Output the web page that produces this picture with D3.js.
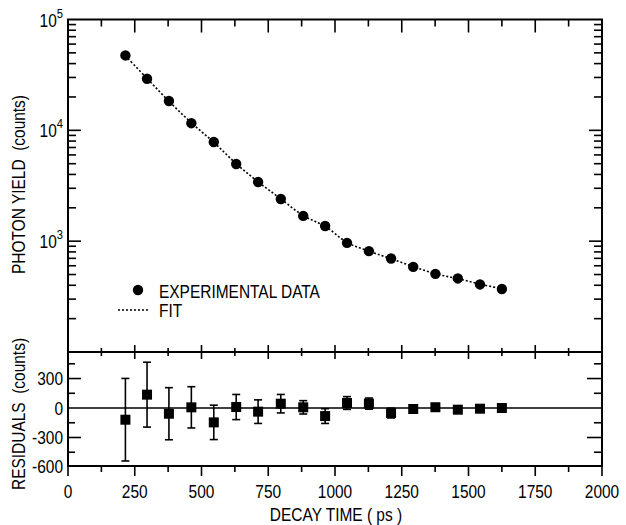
<!DOCTYPE html>
<html>
<head>
<meta charset="utf-8">
<script src="https://cdn.jsdelivr.net/npm/d3@7/dist/d3.min.js"></script>
<style>
  html, body { margin: 0; padding: 0; background: #fff; }
  svg text { font-family: "Liberation Sans", Arial, Helvetica, sans-serif; fill: #000; white-space: pre; }
</style>
</head>
<body>
<svg id="chart" width="626" height="525"></svg>
<script>
// ---- data ----
const decayTime   = [215, 296, 378, 462, 546, 630, 712, 797, 881, 963, 1045, 1127, 1210, 1293, 1376, 1460, 1543, 1625];
const photonYield = [47400, 29200, 18400, 11600, 7850, 4970, 3420, 2400, 1690, 1370, 966, 813, 698, 586, 507, 461, 407, 370];
const fitYield    = [47000, 29400, 18300, 11700, 7800, 5000, 3430, 2410, 1700, 1360, 975, 812, 695, 590, 508, 459, 410, 372];
const residuals   = [-119, 136, -58, 7, -146, 10, -37, 44, 7, -82, 51, 45, -51, -10, 8, -17, -7, 0];
const residualErr = [420, 330, 265, 210, 175, 128, 120, 94, 68, 75, 65, 57, 50, 30, 25, 20, 20, 15];
const xTickLabels = [0, 250, 500, 750, 1000, 1250, 1500, 1750, 2000];
const yieldDecades = [100, 1000, 10000, 100000];
const yieldLabelExp = [3, 4, 5];
const residualTickLabels = [300, 0, -300, -600];
const residualMinorTicks = [450, 150, -150, -450];
const legendLabels = ["EXPERIMENTAL DATA", "FIT"];
const xTitle = "DECAY TIME ( ps )";
const yTitleTop = "PHOTON YIELD  (counts)";
const yTitleBottom = "RESIDUALS  (counts)";

// ---- layout ----
const L = 68, R = 602, T = 19.5, MID = 352, B = 466;
const SX = 0.86; // horizontal condensing of the typeface
const svg = d3.select("#chart");
svg.append("rect").attr("width", 626).attr("height", 525).attr("fill", "#fff");

const x = d3.scaleLinear().domain([0, 2000]).range([L, R]);
const yTop = d3.scaleLog().domain([100, 100000]).range([MID, T]);
const yRes = d3.scaleLinear().domain([-590, 570]).range([B, MID]);

const xMinor = d3.range(125, 2000, 250);
const logMinor = [];
yieldDecades.slice(0, 3).forEach(d => { for (let k = 2; k <= 9; k++) logMinor.push(d * k); });

const g = svg.append("g");

function tick(x1, y1, x2, y2, w) {
  return g.append("line").attr("x1", x1).attr("y1", y1).attr("x2", x2).attr("y2", y2)
    .attr("stroke", "#000").attr("stroke-width", w || 1.6);
}
function label(px, py, str, anchor, rot) {
  return g.append("text")
    .attr("transform", `translate(${px},${py})` + (rot ? ` rotate(${rot})` : "") + ` scale(${SX},1)`)
    .attr("text-anchor", anchor || "start").attr("font-size", 18).text(str);
}

// ---- frame ----
g.append("rect").attr("x", L).attr("y", T).attr("width", R - L).attr("height", B - T)
  .attr("fill", "none").attr("stroke", "#000").attr("stroke-width", 2);
tick(L, MID, R, MID, 2);

// ---- x ticks ----
xTickLabels.forEach(v => {
  if (v > 0 && v < 2000) {
    tick(x(v), T, x(v), T + 13);
    tick(x(v), MID - 7, x(v), MID + 7);
  }
  tick(x(v), B, x(v), B + 10);
  label(x(v), 498, String(v), "middle");
});
xMinor.forEach(v => {
  tick(x(v), T, x(v), T + 7);
  tick(x(v), MID - 4, x(v), MID + 4);
  tick(x(v), B, x(v), B + 6);
});

// ---- log y ticks (top panel) ----
yieldDecades.forEach(v => {
  if (v > 100 && v < 100000) {
    tick(L, yTop(v), L + 13, yTop(v));
    tick(R - 13, yTop(v), R, yTop(v));
  }
});
logMinor.forEach(v => {
  tick(L, yTop(v), L + 8, yTop(v));
  tick(R - 8, yTop(v), R, yTop(v));
});
yieldLabelExp.forEach(e => {
  const t = label(63, yTop(Math.pow(10, e)) + 7, "", "end");
  t.append("tspan").text("10");
  t.append("tspan").attr("dy", -9).attr("font-size", 13).text(e);
});

// ---- residual y ticks ----
residualTickLabels.forEach(v => {
  if (v !== 0 && v !== -600) {
    tick(L, yRes(v), L + 13, yRes(v));
    tick(R - 15, yRes(v), R, yRes(v));
  }
  label(63, yRes(v) + 6.5, String(v), "end");
});
residualMinorTicks.forEach(v => {
  tick(L, yRes(v), L + 7, yRes(v));
  tick(R - 8, yRes(v), R, yRes(v));
});

// zero line
tick(L, yRes(0), R, yRes(0), 1.6);

// ---- fit line (dotted) ----
const fitLine = d3.line().x((d, i) => x(decayTime[i])).y(d => yTop(d)).curve(d3.curveCatmullRom);
g.append("path").datum(fitYield).attr("d", fitLine)
  .attr("fill", "none").attr("stroke", "#000").attr("stroke-width", 1.6)
  .attr("stroke-dasharray", "2,2");

// ---- data points ----
g.selectAll(".pt").data(photonYield).join("circle")
  .attr("cx", (d, i) => x(decayTime[i])).attr("cy", d => yTop(d)).attr("r", 5.2)
  .attr("fill", "#000");

// ---- residual error bars & squares ----
residuals.forEach((r, i) => {
  const cx = x(decayTime[i]);
  const e = residualErr[i];
  tick(cx, yRes(r + e), cx, yRes(r - e), 1.6);
  tick(cx - 4, yRes(r + e), cx + 4, yRes(r + e), 1.6);
  tick(cx - 4, yRes(r - e), cx + 4, yRes(r - e), 1.6);
});
g.selectAll(".sq").data(residuals).join("rect")
  .attr("x", (d, i) => x(decayTime[i]) - 5).attr("y", d => yRes(d) - 5)
  .attr("width", 10).attr("height", 10).attr("fill", "#000");

// ---- legend ----
g.append("circle").attr("cx", 138).attr("cy", 290).attr("r", 5.2).attr("fill", "#000");
label(159, 298, legendLabels[0]);
tick(118, 310, 150, 310, 1.6).attr("stroke-dasharray", "2,2");
label(159, 317, legendLabels[1]);

// ---- axis titles ----
label(336, 521, xTitle, "middle");
label(25, 184.5, yTitleTop, "middle", -90);
label(25, 414, yTitleBottom, "middle", -90);
</script>
</body>
</html>
